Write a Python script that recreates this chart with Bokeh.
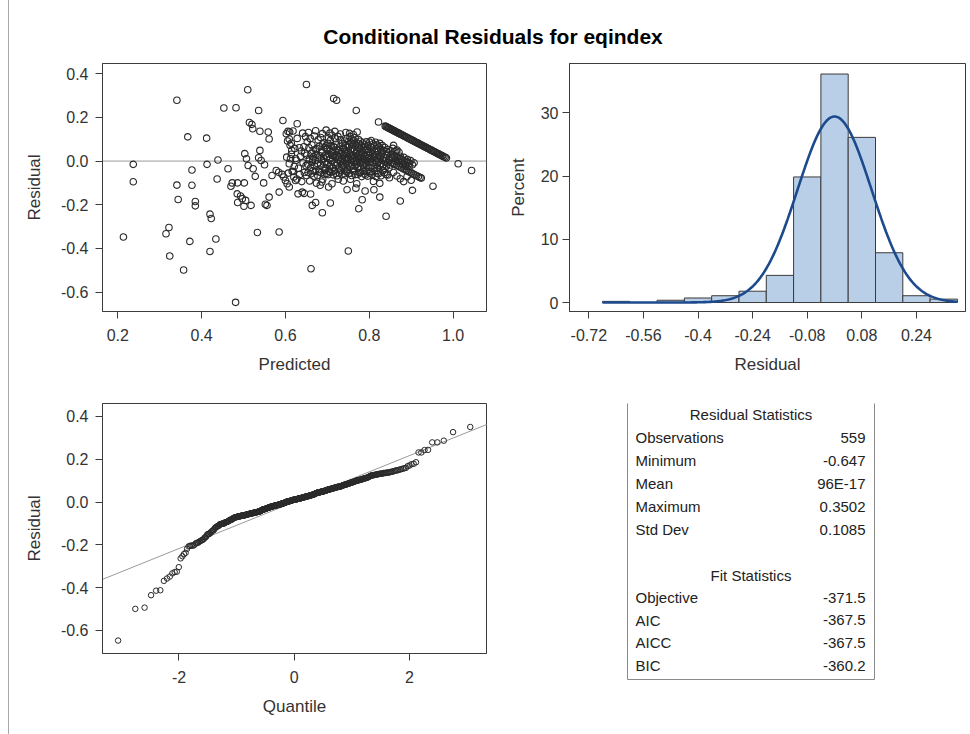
import numpy as np
from statistics import NormalDist
from bokeh.plotting import figure
from bokeh.layouts import row, column
from bokeh.models import Range1d, FixedTicker, Div, Span
from bokeh.core.properties import value
from bokeh.embed import file_html
from bokeh.resources import INLINE

TITLE = "Conditional Residuals for eqindex"

# (predicted, residual): isolated points
SPARSE = [
    (0.2135, -0.348), (0.237, -0.015), (0.237, -0.095), (0.341, 0.279), (0.315, -0.333),
    (0.322, -0.304), (0.324, -0.435), (0.357, -0.499), (0.341, -0.110), (0.344, -0.176),
    (0.367, 0.111), (0.372, -0.368), (0.377, -0.041), (0.377, -0.111), (0.385, -0.185),
    (0.385, -0.205), (0.412, 0.105), (0.413, -0.015), (0.420, -0.243), (0.423, -0.263),
    (0.420, -0.414), (0.439, 0.005), (0.437, -0.082), (0.434, -0.357), (0.453, 0.243),
    (0.463, -0.035), (0.470, -0.115), (0.473, -0.100), (0.482, 0.244), (0.481, -0.647),
    (0.485, -0.150), (0.486, -0.100), (0.486, -0.190), (0.502, -0.100), (0.493, -0.160),
    (0.497, -0.172), (0.501, -0.207), (0.505, -0.180), (0.510, 0.327), (0.503, 0.034),
    (0.507, 0.011), (0.511, -0.020), (0.514, 0.177), (0.520, 0.168), (0.522, 0.148),
    (0.518, -0.203), (0.523, -0.035), (0.528, -0.070), (0.533, -0.327), (0.536, 0.232),
    (0.539, 0.137), (0.539, 0.049), (0.536, 0.015), (0.542, 0.003), (0.548, -0.100),
    (0.550, -0.017), (0.552, -0.198), (0.556, -0.203), (0.559, 0.133), (0.561, 0.101),
    (0.561, -0.165), (0.585, -0.142), (0.585, -0.325), (0.594, 0.186), (0.568, -0.066),
    (0.578, -0.043), (0.584, -0.051), (0.592, -0.061), (0.596, -0.073), (0.600, -0.089),
    (0.604, -0.104), (0.609, -0.119), (0.606, 0.136), (0.609, 0.101), (0.610, 0.133),
    (0.614, 0.082), (0.612, 0.011), (0.616, -0.047), (0.620, -0.073), (0.624, -0.089),
    (0.628, 0.171), (0.630, -0.150), (0.640, -0.142), (0.645, -0.148), (0.650, 0.351),
    (0.660, -0.151), (0.664, -0.203), (0.661, -0.493), (0.672, -0.190), (0.688, -0.237),
    (0.683, -0.111), (0.687, -0.096), (0.707, -0.192), (0.703, -0.119), (0.715, 0.287),
    (0.722, 0.279), (0.747, -0.131), (0.750, -0.412), (0.769, 0.232), (0.775, -0.218),
    (0.783, -0.177), (0.790, -0.137), (0.811, -0.131), (0.825, -0.165), (0.840, -0.253),
    (0.874, -0.183), (0.903, -0.134), (0.952, -0.115), (1.012, -0.012), (1.044, -0.043),
    (0.822, 0.179),
]

# the straight band of points on the upper right
BAND = [
    (0.838, 0.160), (0.840, 0.158), (0.842, 0.156), (0.844, 0.154), (0.846, 0.152),
    (0.848, 0.150), (0.850, 0.148), (0.852, 0.146), (0.854, 0.144), (0.856, 0.142),
    (0.858, 0.140), (0.860, 0.138), (0.862, 0.136), (0.864, 0.134), (0.866, 0.132),
    (0.868, 0.130), (0.870, 0.128), (0.872, 0.126), (0.874, 0.124), (0.876, 0.122),
    (0.879, 0.119), (0.882, 0.116), (0.884, 0.114), (0.887, 0.111), (0.889, 0.109),
    (0.892, 0.106), (0.894, 0.104), (0.897, 0.101), (0.899, 0.099), (0.902, 0.096),
    (0.904, 0.094), (0.907, 0.091), (0.909, 0.089), (0.912, 0.086), (0.914, 0.084),
    (0.917, 0.081), (0.919, 0.079), (0.922, 0.076), (0.924, 0.074), (0.927, 0.071),
    (0.929, 0.069), (0.932, 0.066), (0.934, 0.064), (0.937, 0.061), (0.939, 0.059),
    (0.942, 0.056), (0.944, 0.054), (0.947, 0.051), (0.949, 0.049), (0.952, 0.046),
    (0.954, 0.044), (0.957, 0.041), (0.960, 0.038), (0.963, 0.035), (0.965, 0.033),
    (0.968, 0.030), (0.970, 0.028), (0.973, 0.025), (0.975, 0.023), (0.978, 0.020),
    (0.981, 0.017), (0.984, 0.014),
]

# the dense cloud (estimated)
CLOUD = [
    # predicted 0.60-0.65
    (0.602, 0.125), (0.618, 0.138), (0.641, 0.128),
    (0.605, 0.092), (0.611, 0.072), (0.622, 0.058), (0.628, 0.104), (0.633, 0.061), (0.638, 0.046),
    (0.644, 0.066), (0.648, 0.112), (0.615, 0.049),
    (0.603, 0.018), (0.609, -0.012), (0.614, 0.031), (0.621, -0.025), (0.626, 0.004), (0.631, -0.033),
    (0.636, 0.022), (0.642, -0.008), (0.646, 0.036), (0.649, -0.021), (0.624, 0.012),
    (0.607, -0.055), (0.619, -0.048), (0.627, -0.082), (0.634, -0.061), (0.639, -0.094), (0.645, -0.052),
    (0.650, -0.066),
    # 0.65-0.70
    (0.655, 0.131), (0.672, 0.139), (0.688, 0.126), (0.697, 0.142),
    (0.652, 0.088), (0.656, 0.061), (0.659, 0.104), (0.663, 0.074), (0.666, 0.049), (0.669, 0.115),
    (0.672, 0.053), (0.675, 0.058), (0.678, 0.097), (0.681, 0.068), (0.684, 0.108), (0.686, 0.045),
    (0.689, 0.079), (0.692, 0.084), (0.694, 0.062), (0.697, 0.071), (0.699, 0.053),
    (0.651, 0.027), (0.653, -0.014), (0.657, 0.008), (0.660, -0.031), (0.662, 0.035), (0.664, -0.004),
    (0.667, 0.019), (0.669, -0.022), (0.671, 0.002), (0.673, 0.031), (0.676, -0.011), (0.678, 0.014),
    (0.680, -0.036), (0.682, 0.024), (0.684, -0.018), (0.686, 0.006), (0.688, 0.038), (0.690, -0.027),
    (0.691, 0.012), (0.693, -0.006), (0.695, 0.028), (0.696, -0.033), (0.698, 0.017), (0.699, -0.015),
    (0.665, 0.010),
    (0.654, -0.052), (0.658, -0.091), (0.661, -0.058), (0.665, -0.044), (0.668, -0.069), (0.671, -0.047),
    (0.674, -0.101), (0.677, -0.066), (0.681, -0.049), (0.685, -0.053), (0.689, -0.083), (0.692, -0.062),
    (0.695, -0.043), (0.698, -0.057),
    # 0.70-0.75
    (0.706, 0.128), (0.718, 0.136), (0.731, 0.124), (0.744, 0.131),
    (0.701, 0.082), (0.703, 0.107), (0.705, 0.056), (0.707, 0.094), (0.709, 0.071), (0.711, 0.118),
    (0.713, 0.045), (0.715, 0.066), (0.717, 0.063), (0.719, 0.102), (0.721, 0.077), (0.723, 0.052),
    (0.725, 0.113), (0.727, 0.049), (0.729, 0.066), (0.731, 0.098), (0.733, 0.043), (0.735, 0.081),
    (0.737, 0.059), (0.739, 0.058), (0.741, 0.092), (0.743, 0.071), (0.745, 0.047), (0.747, 0.104),
    (0.749, 0.064),
    (0.700, 0.021), (0.702, -0.008), (0.704, 0.033), (0.705, -0.026), (0.707, 0.011), (0.709, -0.017),
    (0.710, 0.038), (0.712, 0.003), (0.714, -0.032), (0.715, 0.024), (0.717, -0.006), (0.719, 0.015),
    (0.720, -0.021), (0.722, 0.029), (0.724, -0.012), (0.725, 0.007), (0.727, -0.035), (0.729, 0.019),
    (0.730, -0.002), (0.732, 0.034), (0.734, -0.024), (0.735, 0.012), (0.737, -0.009), (0.739, 0.026),
    (0.740, -0.029), (0.742, 0.004), (0.744, 0.036), (0.745, -0.015), (0.747, 0.017), (0.748, -0.038),
    (0.749, 0.009), (0.726, 0.023), (0.738, -0.019), (0.711, 0.027), (0.746, 0.001),
    (0.702, -0.062), (0.705, -0.048), (0.708, -0.051), (0.711, -0.104), (0.714, -0.063), (0.717, -0.045),
    (0.720, -0.056), (0.723, -0.067), (0.726, -0.083), (0.729, -0.055), (0.732, -0.042), (0.735, -0.061),
    (0.738, -0.091), (0.741, -0.058), (0.744, -0.046), (0.747, -0.049),
    # 0.75-0.80
    (0.753, 0.127), (0.762, 0.122), (0.771, 0.133),
    (0.751, 0.091), (0.752, 0.068), (0.754, 0.112), (0.755, 0.047), (0.757, 0.083), (0.758, 0.101),
    (0.760, 0.059), (0.761, 0.076), (0.763, 0.094), (0.765, 0.052), (0.766, 0.108), (0.768, 0.071),
    (0.769, 0.086), (0.771, 0.044), (0.773, 0.063), (0.774, 0.099), (0.776, 0.078), (0.778, 0.055),
    (0.779, 0.091), (0.781, 0.068), (0.783, 0.042), (0.784, 0.083), (0.786, 0.061), (0.788, 0.074),
    (0.789, 0.049), (0.791, 0.066), (0.793, 0.088), (0.795, 0.053), (0.797, 0.071), (0.799, 0.045),
    (0.750, 0.018), (0.751, -0.011), (0.753, 0.032), (0.754, -0.027), (0.755, 0.006), (0.757, 0.024),
    (0.758, -0.018), (0.759, 0.013), (0.761, -0.034), (0.762, 0.028), (0.763, -0.004), (0.765, 0.017),
    (0.766, -0.023), (0.767, 0.035), (0.769, 0.002), (0.770, -0.014), (0.771, 0.021), (0.773, -0.031),
    (0.774, 0.009), (0.775, 0.027), (0.777, -0.008), (0.778, 0.015), (0.779, -0.026), (0.781, 0.031),
    (0.782, -0.003), (0.783, 0.019), (0.785, -0.017), (0.786, 0.008), (0.787, -0.036), (0.789, 0.024),
    (0.790, -0.012), (0.791, 0.004), (0.793, 0.029), (0.794, -0.021), (0.795, 0.011), (0.797, -0.006),
    (0.798, 0.016), (0.799, -0.029), (0.776, 0.037), (0.764, 0.001),
    (0.752, -0.057), (0.755, -0.083), (0.758, -0.066), (0.761, -0.044), (0.764, -0.049), (0.767, -0.062),
    (0.770, -0.104), (0.773, -0.061), (0.776, -0.053), (0.779, -0.052), (0.782, -0.071), (0.785, -0.047),
    (0.788, -0.058), (0.791, -0.064), (0.794, -0.046), (0.797, -0.069),
    (0.768, -0.124),
    # 0.80-0.85
    (0.801, 0.087), (0.803, 0.064), (0.805, 0.094), (0.807, 0.051), (0.809, 0.078), (0.811, 0.069),
    (0.813, 0.043), (0.815, 0.086), (0.817, 0.058), (0.819, 0.073), (0.821, 0.047), (0.823, 0.066),
    (0.825, 0.081), (0.827, 0.054), (0.829, 0.042), (0.831, 0.071), (0.834, 0.049), (0.837, 0.062),
    (0.841, 0.044), (0.845, 0.053),
    (0.800, 0.026), (0.802, -0.004), (0.803, 0.037), (0.805, 0.012), (0.806, -0.019), (0.808, 0.031),
    (0.809, -0.007), (0.810, 0.018), (0.812, -0.028), (0.813, 0.024), (0.815, 0.003), (0.816, -0.014),
    (0.818, 0.029), (0.819, -0.033), (0.820, 0.011), (0.822, -0.002), (0.823, 0.022), (0.825, -0.021),
    (0.826, 0.014), (0.828, -0.011), (0.829, 0.033), (0.831, -0.026), (0.832, 0.006), (0.834, -0.016),
    (0.835, 0.019), (0.837, -0.035), (0.838, 0.001), (0.840, 0.013), (0.841, -0.022), (0.843, 0.027),
    (0.844, -0.008), (0.846, 0.009), (0.847, -0.031), (0.849, 0.004), (0.850, -0.018),
    (0.801, -0.055), (0.804, -0.048), (0.807, -0.062), (0.810, -0.093), (0.813, -0.047), (0.816, -0.071),
    (0.819, -0.056), (0.822, -0.058), (0.825, -0.102), (0.828, -0.067), (0.832, -0.044), (0.836, -0.053),
    (0.840, -0.062), (0.844, -0.064), (0.848, -0.076),
    # 0.85-0.93
    (0.852, 0.046), (0.856, 0.058), (0.861, 0.043), (0.866, 0.051), (0.871, 0.041), (0.858, 0.072),
    (0.864, 0.047),
    (0.852, 0.031), (0.856, 0.028), (0.860, 0.024), (0.864, 0.021), (0.868, 0.017), (0.872, 0.013),
    (0.876, 0.009), (0.880, 0.005), (0.884, 0.001), (0.888, -0.003), (0.892, -0.006), (0.896, -0.011),
    (0.853, -0.006), (0.857, -0.011), (0.861, -0.015), (0.865, -0.019), (0.869, -0.023), (0.873, -0.027),
    (0.877, -0.031), (0.881, -0.035), (0.885, -0.039),
    (0.855, 0.012), (0.863, 0.002), (0.870, -0.002), (0.874, 0.022), (0.879, -0.014), (0.883, 0.017),
    (0.887, -0.021), (0.891, 0.008), (0.895, -0.026), (0.899, 0.002), (0.903, -0.017), (0.907, -0.008),
    (0.889, -0.043), (0.893, -0.047), (0.897, -0.051), (0.901, -0.055), (0.905, -0.059), (0.909, -0.063),
    (0.913, -0.067), (0.917, -0.071), (0.921, -0.075), (0.924, -0.078), (0.858, -0.052), (0.866, -0.068),
    (0.874, -0.081), (0.882, -0.094), (0.890, -0.072), (0.900, -0.088),
]

HIST_EDGES = [-0.68, -0.60, -0.52, -0.44, -0.36, -0.28, -0.20, -0.12, -0.04, 0.04, 0.12, 0.20, 0.28, 0.36]
RES_MEAN = 96e-17
RES_SD = 0.1085

SC_XTICKS = [0.2, 0.4, 0.6, 0.8, 1.0]
SC_XLABELS = ["0.2", "0.4", "0.6", "0.8", "1.0"]
RES_TICKS = [-0.6, -0.4, -0.2, 0.0, 0.2, 0.4]
RES_LABELS = ["-0.6", "-0.4", "-0.2", "0.0", "0.2", "0.4"]
HIST_XTICKS = [-0.72, -0.56, -0.4, -0.24, -0.08, 0.08, 0.24]
HIST_XLABELS = ["-0.72", "-0.56", "-0.4", "-0.24", "-0.08", "0.08", "0.24"]
HIST_YTICKS = [0, 10, 20, 30]
HIST_YLABELS = ["0", "10", "20", "30"]
QQ_XTICKS = [-2, 0, 2]
QQ_XLABELS = ["-2", "0", "2"]

RES_STAT_NAMES = ["Observations", "Minimum", "Mean", "Maximum", "Std Dev"]
RES_STAT_VALUES = ["559", "-0.647", "96E-17", "0.3502", "0.1085"]
FIT_STAT_NAMES = ["Objective", "AIC", "AICC", "BIC"]
FIT_STAT_VALUES = ["-371.5", "-367.5", "-367.5", "-360.2"]

ALL = SPARSE + BAND + CLOUD
pred = np.array([a for a, b in ALL])
resid = np.array([b for a, b in ALL])

FONT = "Liberation Sans"
INK = "#333333"
FRAME = "#3c3c3c"


def style(p, xlabel, ylabel, xticks, xlabels, yticks, ylabels, ystand=7, ylab_stand=14):
    p.xgrid.visible = False
    p.ygrid.visible = False
    p.outline_line_color = FRAME
    p.outline_line_width = 1
    p.background_fill_color = "white"
    p.border_fill_color = "white"
    p.xaxis.axis_label = xlabel
    p.yaxis.axis_label = ylabel
    p.xaxis.ticker = FixedTicker(ticks=xticks)
    p.xaxis.major_label_overrides = {t: l for t, l in zip(xticks, xlabels)}
    p.yaxis.ticker = FixedTicker(ticks=yticks)
    p.yaxis.major_label_overrides = {t: l for t, l in zip(yticks, ylabels)}
    for ax in (p.xaxis[0], p.yaxis[0]):
        ax.axis_line_color = FRAME
        ax.major_tick_line_color = FRAME
        ax.minor_tick_line_color = None
        ax.major_tick_in = 0
        ax.major_tick_out = 7
        ax.major_label_text_font = FONT
        ax.major_label_text_font_size = "16px"
        ax.major_label_text_color = INK
        ax.axis_label_text_font = FONT
        ax.axis_label_text_font_size = "17px"
        ax.axis_label_text_font_style = "normal"
        ax.axis_label_text_color = INK
    p.xaxis.major_label_standoff = 10
    p.xaxis.axis_label_standoff = 11
    p.yaxis.major_label_standoff = ystand
    p.yaxis.axis_label_standoff = ylab_stand


def blank(w, h):
    # ranges in pixels, y measured upward from the bottom of the figure
    f = figure(title=None, frame_width=w, frame_height=h,
               min_border_left=0, min_border_right=0, min_border_top=0, min_border_bottom=0,
               x_range=Range1d(0, w), y_range=Range1d(0, h),
               x_axis_type=None, y_axis_type=None,
               output_backend="svg", toolbar_location=None)
    f.outline_line_color = None
    f.xgrid.visible = False
    f.ygrid.visible = False
    f.background_fill_color = "white"
    f.border_fill_color = "white"
    return f


# ---- title (page x 9..966, y 0..50)
TH_T = 50
tp = blank(957, TH_T)
tp.text(x=[483.5], y=[14], text=[TITLE], text_font=value(FONT), text_font_style="bold",
        text_font_size="21px", text_align="center", text_baseline="alphabetic", text_color="black")

# ---- scatter residual vs predicted
sc = figure(title=None, frame_width=384, frame_height=248, min_border_left=93, min_border_right=6,
            min_border_top=13, min_border_bottom=77,
            x_range=Range1d(0.1635, 1.0796), y_range=Range1d(-0.689, 0.447),
            output_backend="svg", toolbar_location=None)
style(sc, "Predicted", "Residual", SC_XTICKS, SC_XLABELS, RES_TICKS, RES_LABELS)
zero = Span(location=0, dimension="width", line_color="#9a9a9a", line_width=1, level="underlay")
sc.add_layout(zero)
sc.scatter(pred, resid, marker="circle", size=6.5, fill_color=None, line_color="#2a2a2a", line_width=1.1)

# ---- histogram
counts, _ = np.histogram(resid, bins=HIST_EDGES)
pct = counts / len(resid) * 100.0
edges = np.array(HIST_EDGES)
keep = counts > 0
hp = figure(title=None, frame_width=396, frame_height=248, min_border_left=77, min_border_right=1,
            min_border_top=13, min_border_bottom=77,
            x_range=Range1d(-0.7766, 0.3837), y_range=Range1d(-1.42, 37.8),
            output_backend="svg", toolbar_location=None)
style(hp, "Residual", "Percent", HIST_XTICKS, HIST_XLABELS, HIST_YTICKS, HIST_YLABELS,
      ystand=4, ylab_stand=10)
hp.quad(left=edges[:-1][keep], right=edges[1:][keep], bottom=0, top=pct[keep],
        fill_color="#b9cfe8", line_color="#3a3a3a", line_width=1)
nd = NormalDist(RES_MEAN, RES_SD)
xs = np.linspace(HIST_EDGES[0], HIST_EDGES[-1], 300)
bw = HIST_EDGES[1] - HIST_EDGES[0]
ys = np.array([nd.pdf(v) for v in xs]) * bw * 100.0
hp.line(xs, ys, line_color="#1c4a8c", line_width=2.6)

# ---- QQ plot
n = len(resid)
srt = np.sort(resid)
std_norm = NormalDist()
qz = np.array([std_norm.inv_cdf((i + 1 - 0.375) / (n + 0.25)) for i in range(n)])
qq = figure(title=None, frame_width=384, frame_height=250, min_border_left=93, min_border_right=6,
            min_border_top=15, min_border_bottom=75,
            x_range=Range1d(-3.328, 3.339), y_range=Range1d(-0.7075, 0.4607),
            output_backend="svg", toolbar_location=None)
style(qq, "Quantile", "Residual", QQ_XTICKS, QQ_XLABELS, RES_TICKS, RES_LABELS)
lx = np.array([-3.5, 3.5])
qq.line(lx, RES_MEAN + RES_SD * lx, line_color="#9a9a9a", line_width=1)
qq.scatter(qz, srt, marker="circle", size=5.5, fill_color=None, line_color="#2a2a2a", line_width=1)

# ---- statistics table (page x 492..966, y 388..728); positions given from the top
TW, TH = 474, 340
SHIFT = 16
tb = blank(TW, TH)


def fy_(v):
    return TH - (v - SHIFT)


tb.quad(left=[135], right=[382], top=[fy_(15)], bottom=[fy_(292)], fill_color=None,
        line_color="#8a8a8a", line_width=1)
cx = (135 + 382) / 2
lx0, rx0 = 143, 373
tkw = dict(text_font=value(FONT), text_font_size="15px", text_color="#222222",
           text_baseline="middle")
tb.text(x=[cx], y=[fy_(27)], text=["Residual Statistics"], text_align="center", **tkw)
ry = [fy_(50 + 23 * i) for i in range(len(RES_STAT_NAMES))]
tb.text(x=[lx0] * len(ry), y=ry, text=RES_STAT_NAMES, text_align="left", **tkw)
tb.text(x=[rx0] * len(ry), y=ry, text=RES_STAT_VALUES, text_align="right", **tkw)
tb.text(x=[cx], y=[fy_(188)], text=["Fit Statistics"], text_align="center", **tkw)
fyy = [fy_(210 + 22.7 * i) for i in range(len(FIT_STAT_NAMES))]
tb.text(x=[lx0] * len(fyy), y=fyy, text=FIT_STAT_NAMES, text_align="left", **tkw)
tb.text(x=[rx0] * len(fyy), y=fyy, text=FIT_STAT_VALUES, text_align="right", **tkw)

pad = Div(text="", width=8, height=734, margin=0)
edge = Div(text="", width=1, height=734, margin=0, styles={"background-color": "#a8a8a8"})
layout = row(pad, edge, column(tp, row(sc, hp), row(qq, tb)))

open("out.html", "w").write(file_html(layout, INLINE))
